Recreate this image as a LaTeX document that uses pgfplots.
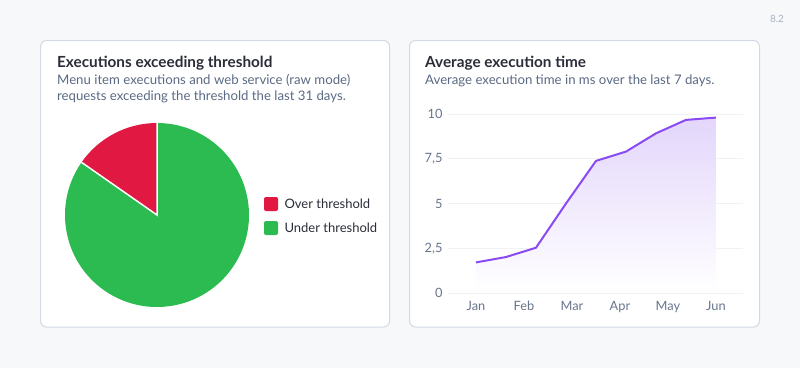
\documentclass[border=0pt]{standalone}
\usepackage{pgfplots}
\pgfplotsset{compat=1.18}
\usepackage{pgfplotstable}
\usepackage{fontspec}
\setmainfont{Lato}
\definecolor{bg}{HTML}{F7F8FA}
\definecolor{cardborder}{HTML}{D3DAE5}
\definecolor{titlec}{HTML}{2B2D38}
\definecolor{subc}{HTML}{5B6A84}
\definecolor{tickc}{HTML}{69758C}
\definecolor{gridc}{HTML}{EFF1F5}
\definecolor{pieRed}{HTML}{E11842}
\definecolor{pieGreen}{HTML}{2BBB51}
\definecolor{lineP}{HTML}{8A4AF3}
\definecolor{fillP}{HTML}{E3D6FB}
\definecolor{verc}{HTML}{A9B3C4}

\pgfplotstableread{
label value
Over 15.3
Under 84.7
}\piedata
\pgfplotstableread{
x y
0 1.71
0.625 2.01
1.25 2.53
1.875 5.0
2.5 7.38
3.125 7.90
3.75 8.92
4.375 9.67
5 9.80
}\timedata

\begin{document}
\begin{tikzpicture}[x=1pt,y=1pt]
\fill[bg] (0,0) rectangle (800,368);
\filldraw[fill=white, draw=cardborder, line width=1pt, rounded corners=6pt] (40.5,41) rectangle (389.5,327.5);
\filldraw[fill=white, draw=cardborder, line width=1pt, rounded corners=6pt] (409.5,41) rectangle (759.5,327.5);
\node[anchor=center, text=verc, font=\fontsize{10}{12}\selectfont] at (777,349) {8.2};

% titles
\node[anchor=base west, inner sep=0, text=titlec, font=\fontsize{15.3}{18}\selectfont\bfseries] at (57,301) {Executions exceeding threshold};
\node[anchor=base west, inner sep=0, text=subc, font=\fontsize{13.2}{16}\selectfont] at (57,283.5) {Menu item executions and web service (raw mode)};
\node[anchor=base west, inner sep=0, text=subc, font=\fontsize{13.2}{16}\selectfont] at (57,267.5) {requests exceeding the threshold the last 31 days.};
\node[anchor=base west, inner sep=0, text=titlec, font=\fontsize{15.3}{18}\selectfont\bfseries] at (425,301) {Average execution time};
\node[anchor=base west, inner sep=0, text=subc, font=\fontsize{13.2}{16}\selectfont] at (425,284) {Average execution time in ms over the last 7 days.};

% pie
\pgfplotstablegetelem{0}{value}\of\piedata
\pgfmathsetmacro{\aEnd}{90+\pgfplotsretval*3.6}
\begin{axis}[at={(157pt,153pt)}, anchor=center, scale only axis, width=184pt, height=184pt,
  hide axis, xmin=-1, xmax=1, ymin=-1, ymax=1, clip=false]
\fill[pieRed] (axis cs:0,0) -- (axis cs:0,1) arc[start angle=90, end angle=\aEnd, radius=92pt] -- cycle;
\fill[pieGreen] (axis cs:0,0) -- (axis cs:{cos(\aEnd)},{sin(\aEnd)}) arc[start angle=\aEnd, end angle=450, radius=92pt] -- cycle;
\draw[white, line width=1.5pt] (axis cs:0,1) -- (axis cs:0,0) -- (axis cs:{cos(\aEnd)},{sin(\aEnd)});
\end{axis}
% legend
\fill[pieRed, rounded corners=2pt] (264,157) rectangle (278,171);
\node[anchor=west, text=titlec, font=\fontsize{13}{15}\selectfont] at (281,164) {Over threshold};
\fill[pieGreen, rounded corners=2pt] (264,133) rectangle (278,147);
\node[anchor=west, text=titlec, font=\fontsize{13}{15}\selectfont] at (281,140) {Under threshold};

% line chart
\begin{axis}[at={(448pt,75pt)}, anchor=south west, scale only axis, width=295pt, height=179pt,
  xmin=-0.583, xmax=5.563, ymin=0, ymax=10,
  axis line style={draw=none}, major tick length=0pt,
  ymajorgrids, grid style={gridc, line width=1pt},
  xtick={0,1,2,3,4,5}, xticklabels={Jan,Feb,Mar,Apr,May,Jun},
  ytick={0,2.5,5,7.5,10}, yticklabels={0,{2,5},5,{7,5},10},
  tick label style={font=\fontsize{12.8}{14}\selectfont, text=tickc},
  yticklabel style={xshift=-2pt},
  xticklabel style={yshift=-4.5pt},
  clip=false]
\addplot[draw=none, top color=fillP, bottom color=white, forget plot] table[x=x,y=y]{\timedata} \closedcycle;
\addplot[lineP, line width=2pt, line join=round, mark=none] table[x=x,y=y]{\timedata};
\end{axis}
\end{tikzpicture}
\end{document}
